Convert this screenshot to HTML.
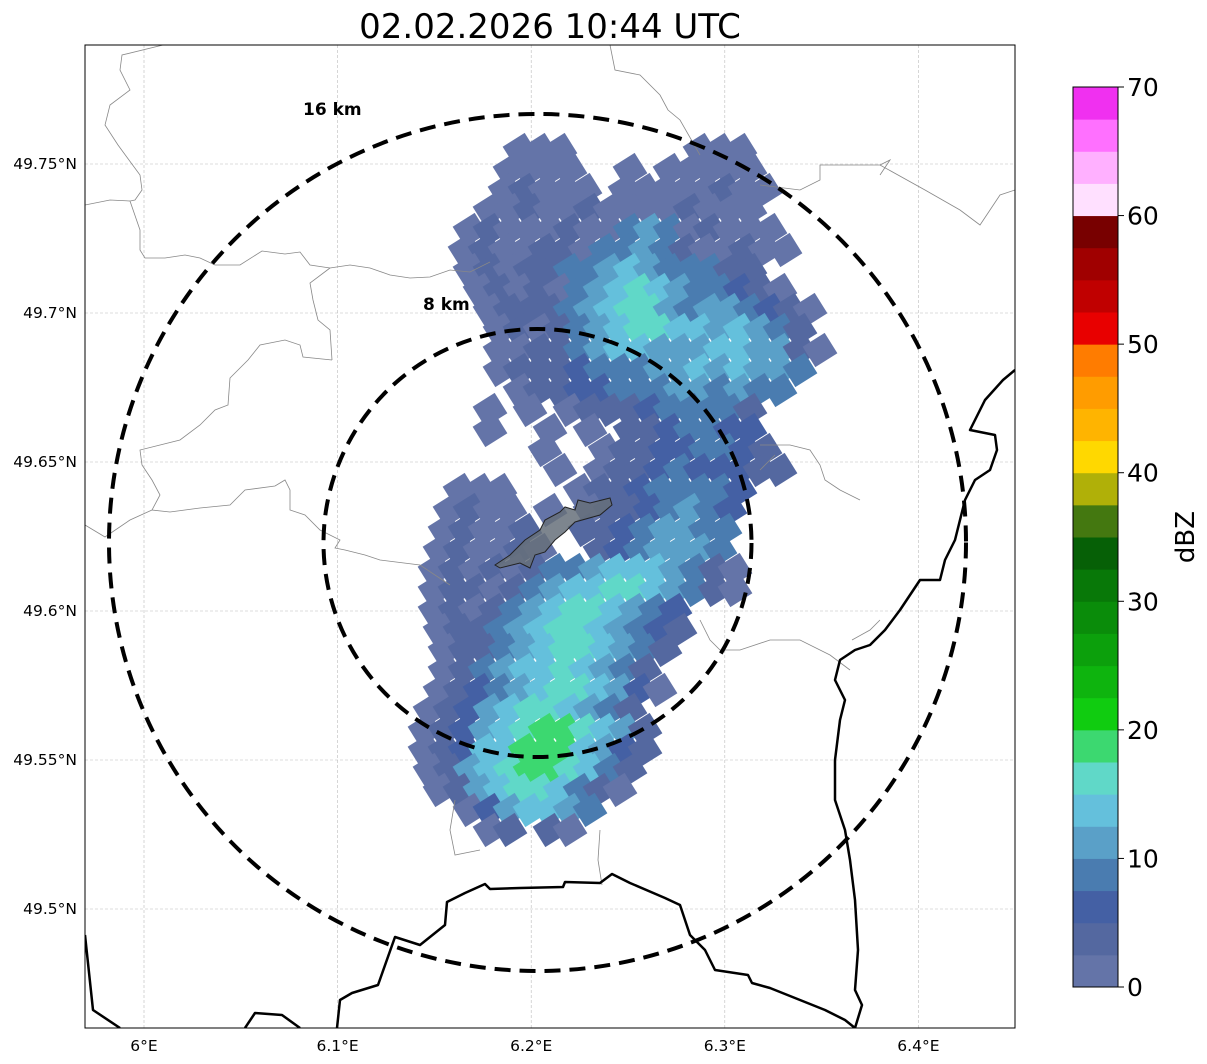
<!DOCTYPE html>
<html><head><meta charset="utf-8"><style>
body{margin:0;background:#fff;width:1207px;height:1064px;overflow:hidden;font-family:"DejaVu Sans",sans-serif}
svg{position:absolute;left:0;top:0}
</style></head><body>
<svg id="chart" width="1207" height="1064" viewBox="0 0 1207 1064" xmlns="http://www.w3.org/2000/svg" font-family="DejaVu Sans, sans-serif">
<text x="550" y="38" font-size="34" text-anchor="middle" fill="#000">02.02.2026 10:44 UTC</text>
<defs><clipPath id="mapclip"><rect x="85" y="45" width="930" height="983"/></clipPath></defs>
<g id="map" clip-path="url(#mapclip)">
<g id="grid"></g>
<g id="echo"></g>
<g fill="none" stroke="#888" stroke-width="0.8">
<path d="M163,45 L122,55 L120,70 L130,90 L110,105 L105,125 L118,145 L140,175 L142,190 L135,200 L130,201 L140,230 L140,250 L145,258 L165,258 L185,255 L200,258 L215,265 L240,265 L262,251 L285,254 L300,252 L310,265 L330,268 L350,265 L370,268 L390,275 L410,278 L430,277 L450,270 L470,272 L490,262"/>
<path d="M130,201 L110,200 L85,205"/>
<path d="M332,360 L330,330 L318,320 L313,300 L310,283 L330,268"/>
<path d="M332,360 L303,357 L300,345 L285,340 L260,345 L248,360 L230,378 L228,405 L215,410 L200,425 L180,440 L140,450 L142,465 L152,480 L160,495 L152,510 L170,512 L200,508 L230,505 L245,490 L275,486 L285,480 L290,490 L290,510 L305,515 L320,530 L340,540 L335,548 L345,550 L365,555 L380,560 L420,565 L450,585"/>
<path d="M85,525 L105,537 L130,520 L152,510"/>
<path d="M610,45 L615,70 L640,75 L660,95 L668,110 L680,120 L700,155"/>
<path d="M760,185 L800,190 L820,180 L820,165 L880,165 L925,190 L960,210 L980,225 L1000,195 L1015,190"/>
<path d="M880,165 L890,160 L880,175"/>
<path d="M760,445 L790,445 L810,450 L820,465 L825,480 L840,490 L860,500"/>
<path d="M760,470 L775,455"/>
<path d="M455,800 L450,830 L455,855 L480,850"/>
<path d="M600,830 L598,860 L602,885"/>
<path d="M700,620 L710,640 L720,650 L740,650 L770,640 L800,640 L830,655 L850,670"/>
<path d="M852,640 L870,630 L880,620"/>
</g>
<g fill="none" stroke="#000" stroke-width="2.5" stroke-linejoin="round">
<path d="M85,935 L93,1010 L120,1028"/>
<path d="M245,1028 L255,1013 L282,1015 L300,1028"/>
<path d="M337,1028 L340,1000 L352,993 L378,985 L395,937 L420,945 L445,925 L447,902 L465,893 L485,884 L490,889 L520,888 L563,887 L565,882 L600,883 L612,874 L630,883 L665,898 L680,905 L690,935 L705,950 L715,970 L748,975 L752,983 L770,988 L800,1000 L825,1010 L845,1020 L855,1028"/>
<path d="M1015,370 L1003,380 L985,400 L970,430 L995,435 L997,450 L990,470 L975,480 L965,500 L955,540 L945,560 L940,580 L920,580 L900,610 L885,630 L870,645 L855,650 L840,660 L835,680 L845,700 L840,720 L835,760 L835,800 L845,830 L850,860 L855,900 L858,950 L855,990 L862,1005 L855,1028"/>
</g>
<path d="M495,565 L510,555 L525,540 L540,530 L545,520 L560,512 L565,507 L575,510 L578,500 L590,503 L610,498 L612,505 L600,515 L575,522 L565,532 L555,540 L545,552 L535,555 L530,568 L520,563 L500,568 Z" fill="#66707a" fill-opacity="0.85" stroke="#222" stroke-width="1"/>
<circle cx="537.5" cy="542.5" r="428.5" fill="none" stroke="#000" stroke-width="4" stroke-dasharray="16,9"/>
<circle cx="537.5" cy="543" r="214" fill="none" stroke="#000" stroke-width="4" stroke-dasharray="16,9"/>
<text x="303" y="115" font-size="17" font-weight="bold">16 km</text>
<text x="423" y="310" font-size="17" font-weight="bold">8 km</text>
</g>
<rect x="85" y="45" width="930" height="983" fill="none" stroke="#000" stroke-width="1"/>
<g id="ticks" font-size="15.5" fill="#000"></g>
<g id="cbar"></g>
<text transform="translate(1194,537) rotate(-90)" font-size="26" text-anchor="middle">dBZ</text>
</svg>
<script>
const NS='http://www.w3.org/2000/svg';
const lonTicks=[6.0,6.1,6.2,6.3,6.4];
const lonLabels=['6°E','6.1°E','6.2°E','6.3°E','6.4°E'];
const latTicks=[49.75,49.7,49.65,49.6,49.55,49.5];
const latLabels=['49.75°N','49.7°N','49.65°N','49.6°N','49.55°N','49.5°N'];
const cbarTicks=[0,10,20,30,40,50,60,70];
const cbarColors=['#6474a8','#5468a0','#4460a4','#4a7cb0','#5aa0c8','#64c0dc','#60d8c8','#3cd870','#10cc10','#0eb40e','#0ca00c','#0a8c0a','#087808','#066006','#447810','#b0b008','#ffd800','#ffb400','#ff9c00','#ff7c00','#e80000','#c00000','#a00000','#780000','#ffe0ff','#ffb0ff','#ff70ff','#f030f0'];
// echo rows: screen-read rows converted to lat / start lon
const rowY=[150,170,190,210,230,250,270,290,310,330,350,370,390,410,430,450,470,490,510,530,550,570,590,610,630,650,670,690,710,730,750,770,790,810,830];
const rowX0=[510,500,495,480,460,455,460,470,480,490,490,490,490,480,480,535,530,450,440,435,430,425,425,425,430,435,435,430,420,415,415,420,430,460,480];
const rowVals=["000......000.","0000..0.00000","01000.00000100","00100100001000","0100010034301000","01001103343100100","010113345433311","0101034565433210","01113456643443210","0101345665545431","00113455444554410","0111233344545443",".01122333443433","0.0.0111233331","0..0.0.1123322","0..011223321",".0.0112322211","000...011233332","0100.0.01123432","01001..11234433","010010..1234443","0101013345554310","0110134556654310","0101345665432","0113456654321","011345665431","01345565431","012345665420","01245665431","012456776541","012557775421","01456776531","0145665310","0245543","01.10"];
const rowLats=rowY.map(y=>49.75-(y-164)/2980);
const rowLon0=rowX0.map(x=>6+(x-144)/1936);
const dLon=20/1936;
function xOf(lon){return 144+(lon-6)*1936;}
function yOf(lat){return 164+(49.75-lat)*2980;}
function cY(v){return 987-v/70*900;}
const grid=document.getElementById('grid');
lonTicks.forEach((t,i)=>{const l=document.createElementNS(NS,'line');


l.setAttribute('x1',xOf(t));l.setAttribute('x2',xOf(t));l.setAttribute('y1',45);l.setAttribute('y2',1028);l.setAttribute('stroke','#bbb');l.setAttribute('stroke-width','0.6');l.setAttribute('stroke-dasharray','3,2');grid.appendChild(l);});
latTicks.forEach((t,i)=>{const l=document.createElementNS(NS,'line');


l.setAttribute('y1',yOf(t));l.setAttribute('y2',yOf(t));l.setAttribute('x1',85);l.setAttribute('x2',1015);l.setAttribute('stroke','#bbb');l.setAttribute('stroke-width','0.6');l.setAttribute('stroke-dasharray','3,2');grid.appendChild(l);});
const ticks=document.getElementById('ticks');
lonTicks.forEach((t,i)=>{const e=document.createElementNS(NS,'text');


e.setAttribute('x',xOf(t));e.setAttribute('y',1051);e.setAttribute('text-anchor','middle');e.textContent=lonLabels[i];ticks.appendChild(e);});
latTicks.forEach((t,i)=>{const e=document.createElementNS(NS,'text');


e.setAttribute('x',77);e.setAttribute('y',yOf(t)+5);e.setAttribute('text-anchor','end');e.textContent=latLabels[i];ticks.appendChild(e);});
const echo=document.getElementById('echo');
rowVals.forEach((s,r)=>{const y=yOf(rowLats[r]);
for(let c=0;c<s.length;c++){const ch=s[c];if(ch==='.')continue;const v=+ch;
const x=xOf(rowLon0[r]+c*dLon)+10;
const e=document.createElementNS(NS,'rect');


e.setAttribute('x',x-13);e.setAttribute('y',y-12);e.setAttribute('width',26);e.setAttribute('height',24);
e.setAttribute('fill',cbarColors[v]);e.setAttribute('transform','rotate(-32 '+x+' '+y+')');echo.appendChild(e);}});
const cbar=document.getElementById('cbar');
cbarColors.forEach((col,i)=>{const v0=i*2.5,v1=v0+2.5;const e=document.createElementNS(NS,'rect');


e.setAttribute('x',1073);e.setAttribute('y',cY(v1));e.setAttribute('width',45);e.setAttribute('height',cY(v0)-cY(v1)+0.5);e.setAttribute('fill',col);cbar.appendChild(e);});
const fr=document.createElementNS(NS,'rect');


fr.setAttribute('x',1073);fr.setAttribute('y',87);fr.setAttribute('width',45);fr.setAttribute('height',900);fr.setAttribute('fill','none');fr.setAttribute('stroke','#000');cbar.appendChild(fr);
cbarTicks.forEach(t=>{const l=document.createElementNS(NS,'line');


l.setAttribute('x1',1118);l.setAttribute('x2',1124);l.setAttribute('y1',cY(t));l.setAttribute('y2',cY(t));l.setAttribute('stroke','#000');cbar.appendChild(l);
const e=document.createElementNS(NS,'text');


e.setAttribute('x',1127);e.setAttribute('y',cY(t)+9);e.setAttribute('font-size','25');e.textContent=t;cbar.appendChild(e);});
</script>
</body></html>
